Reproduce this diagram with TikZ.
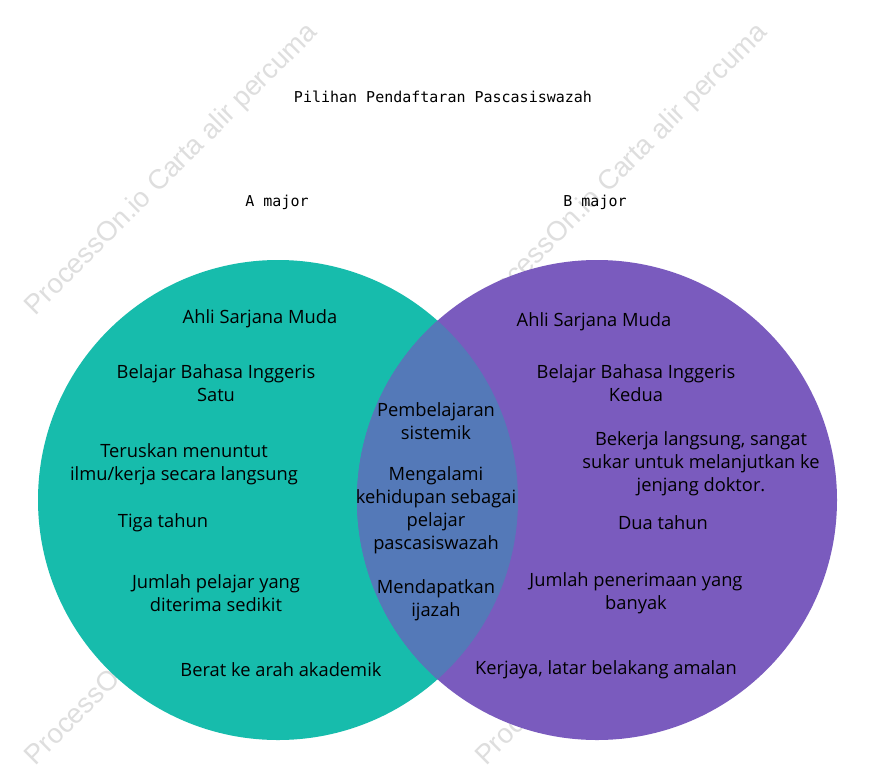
\documentclass[tikz,border=0pt]{standalone}
\usepackage{fontspec}
\setmainfont{Open Sans}
\newfontfamily\monofont{DejaVu Sans Mono}
\newfontfamily\wmfont{Liberation Sans}
\definecolor{tealA}{RGB}{23,188,172}
\definecolor{purpleB}{RGB}{122,91,190}
\definecolor{overlapAB}{RGB}{84,121,184}
\definecolor{wmgray}{RGB}{222,222,222}
\tikzset{
	item/.style={align=center, font=\fontsize{18.3}{23}\selectfont, text=black, inner sep=0pt},
	heading/.style={font=\monofont\fontsize{15}{18}\selectfont, inner sep=0pt},
	watermark/.style={font=\wmfont\fontsize{27.5}{30}\selectfont, text=wmgray, rotate=45, inner sep=0pt}
}
\begin{document}
\begin{tikzpicture}[x=1pt,y=-1pt]
			\useasboundingbox[fill=white] (0,0) rectangle (873,777);
			
			% Wasserzeichen
			\node[watermark] (wm1) at (172,170) {ProcessOn.io Carta alir percuma};
			\node[watermark] (wm2) at (622,170) {ProcessOn.io Carta alir percuma};
			\node[watermark] (wm3) at (172,620) {ProcessOn.io Carta alir percuma};
			\node[watermark] (wm4) at (622,620) {ProcessOn.io Carta alir percuma};
			
			% Kreise
			\fill[tealA] (278,500) circle (240);
			\fill[purpleB] (597,500) circle (240);
			\begin{scope}
				\clip (278,500) circle (240);
				\fill[overlapAB] (597,500) circle (240);
			\end{scope}
			
			% Titel
			\node[heading] (title) at (443,97) {Pilihan Pendaftaran Pascasiswazah};
			\node[heading] (majA) at (277,202) {A major};
			\node[heading] (majB) at (595,202) {B major};
			
			% A major
			\node[item] (a1) at (260,319) {Ahli Sarjana Muda};
			\node[item] (a2) at (216,383) {Belajar Bahasa Inggeris\\Satu};
			\node[item] (a3) at (184,464) {Teruskan menuntut\\ilmu/kerja secara langsung};
			\node[item] (a4) at (163,523) {Tiga tahun};
			\node[item] (a5) at (216,593) {Jumlah pelajar yang\\diterima sedikit};
			\node[item] (a6) at (281,670) {Berat ke arah akademik};
			
			% Gemeinsam
			\node[item] (c1) at (436,421) {Pembelajaran\\sistemik};
			\node[item] (c2) at (436,510) {Mengalami\\kehidupan sebagai\\pelajar\\pascasiswazah};
			\node[item] (c3) at (436,600) {Mendapatkan\\ijazah};
			
			% B major
			\node[item] (b1) at (594,322) {Ahli Sarjana Muda};
			\node[item] (b2) at (636,383) {Belajar Bahasa Inggeris\\Kedua};
			\node[item] (b3) at (701,464) {Bekerja langsung, sangat\\sukar untuk melanjutkan ke\\jenjang doktor.};
			\node[item] (b4) at (663,523) {Dua tahun};
			\node[item] (b5) at (636,593) {Jumlah penerimaan yang\\banyak};
			\node[item] (b6) at (606,670) {Kerjaya, latar belakang amalan};
			
		\end{tikzpicture}
\end{document}
